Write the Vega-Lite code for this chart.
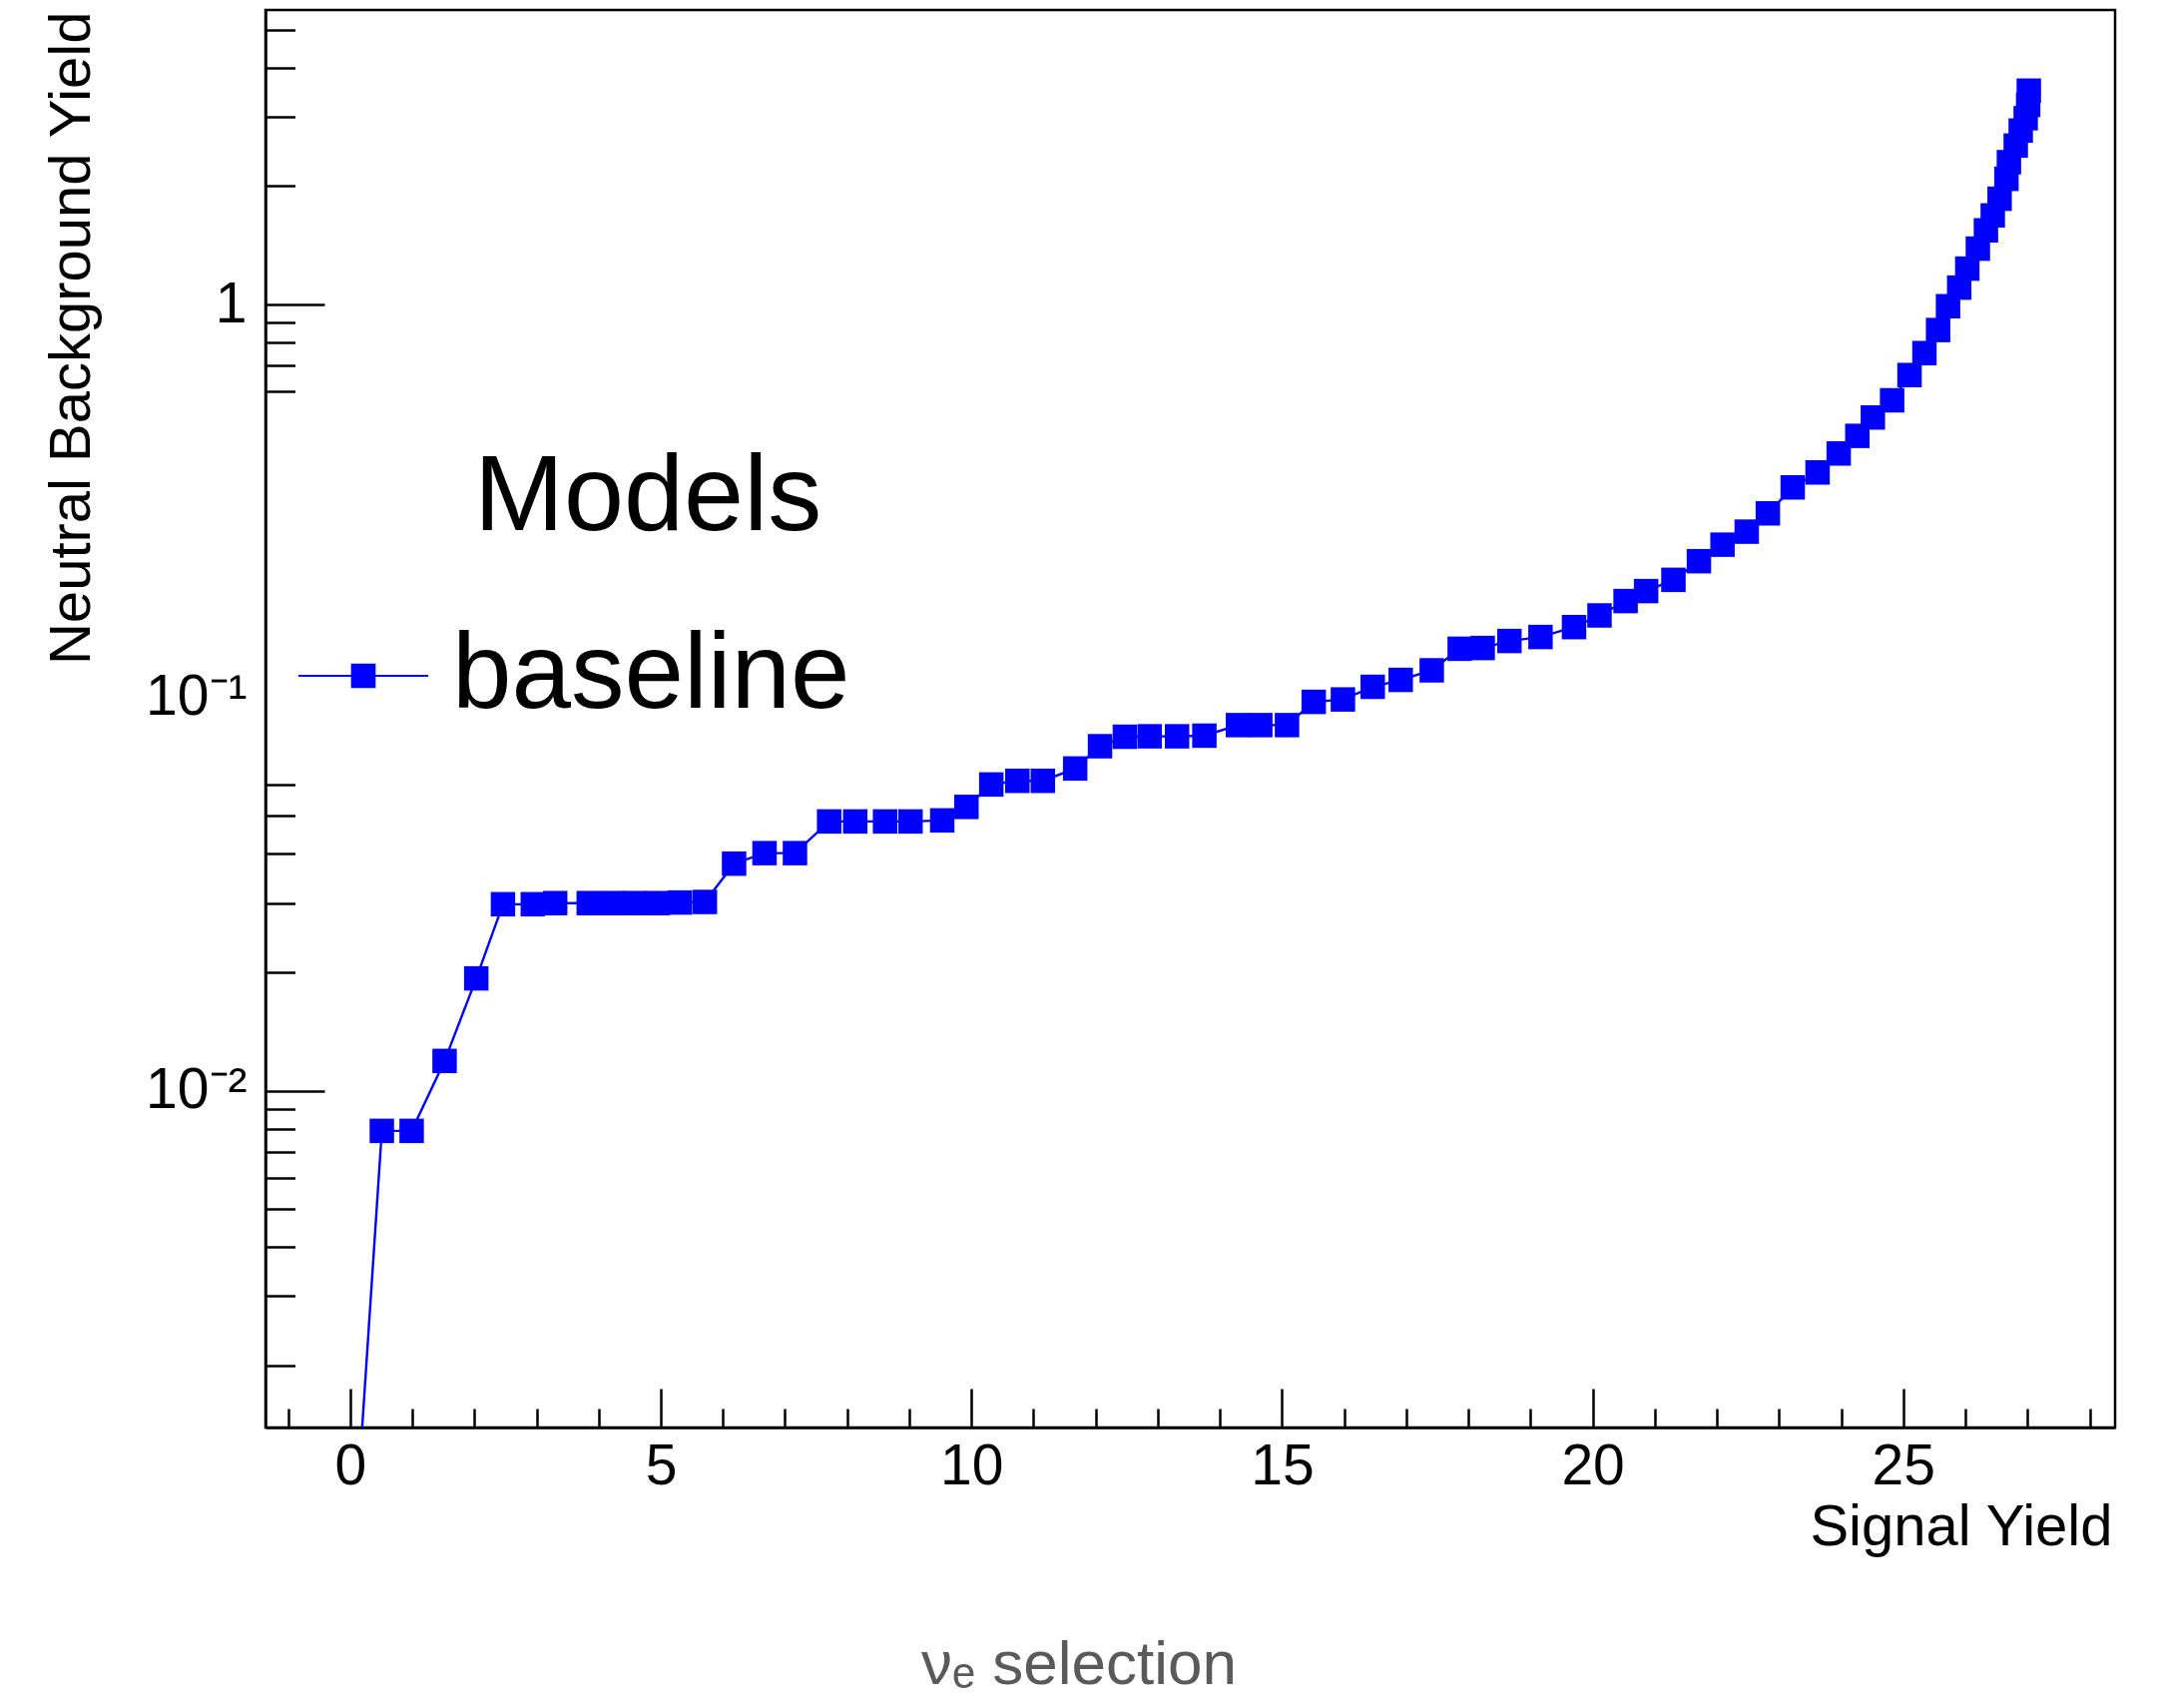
{
  "$schema": "https://vega.github.io/schema/vega-lite/v6.json",
  "width": 1853,
  "height": 1420,
  "autosize": {"type": "none"},
  "padding": {"left": 266, "top": 10, "right": 48, "bottom": 281},
  "background": "white",
  "config": {
    "font": "Liberation Sans",
    "view": {"stroke": "black", "strokeWidth": 2.5},
    "axis": {"grid": false, "tickColor": "black", "domainColor": "black", "labelColor": "black", "titleColor": "black"}
  },
  "title": {
    "text": "νₑ selection",
    "orient": "bottom",
    "anchor": "middle",
    "frame": "bounds",
    "font": "Liberation Sans",
    "fontSize": 62,
    "fontWeight": "normal",
    "color": "#5a5a5a",
    "offset": 79
  },
  "data": {
    "values": [
      {"signal": 0.00, "background": 0.00048, "model": "baseline"},
      {"signal": 0.51, "background": 0.0079, "model": "baseline"},
      {"signal": 0.99, "background": 0.0079, "model": "baseline"},
      {"signal": 1.52, "background": 0.0119, "model": "baseline"},
      {"signal": 2.03, "background": 0.0193, "model": "baseline"},
      {"signal": 2.46, "background": 0.0298, "model": "baseline"},
      {"signal": 2.94, "background": 0.0298, "model": "baseline"},
      {"signal": 3.30, "background": 0.0300, "model": "baseline"},
      {"signal": 3.84, "background": 0.0300, "model": "baseline"},
      {"signal": 4.22, "background": 0.0300, "model": "baseline"},
      {"signal": 4.58, "background": 0.0300, "model": "baseline"},
      {"signal": 4.95, "background": 0.0300, "model": "baseline"},
      {"signal": 5.31, "background": 0.0301, "model": "baseline"},
      {"signal": 5.71, "background": 0.0302, "model": "baseline"},
      {"signal": 6.18, "background": 0.0378, "model": "baseline"},
      {"signal": 6.67, "background": 0.0402, "model": "baseline"},
      {"signal": 7.16, "background": 0.0402, "model": "baseline"},
      {"signal": 7.71, "background": 0.0484, "model": "baseline"},
      {"signal": 8.13, "background": 0.0484, "model": "baseline"},
      {"signal": 8.61, "background": 0.0484, "model": "baseline"},
      {"signal": 9.02, "background": 0.0484, "model": "baseline"},
      {"signal": 9.53, "background": 0.0487, "model": "baseline"},
      {"signal": 9.92, "background": 0.0527, "model": "baseline"},
      {"signal": 10.32, "background": 0.0601, "model": "baseline"},
      {"signal": 10.74, "background": 0.0614, "model": "baseline"},
      {"signal": 11.15, "background": 0.0614, "model": "baseline"},
      {"signal": 11.67, "background": 0.0660, "model": "baseline"},
      {"signal": 12.07, "background": 0.0752, "model": "baseline"},
      {"signal": 12.47, "background": 0.0795, "model": "baseline"},
      {"signal": 12.87, "background": 0.0797, "model": "baseline"},
      {"signal": 13.31, "background": 0.0797, "model": "baseline"},
      {"signal": 13.75, "background": 0.0800, "model": "baseline"},
      {"signal": 14.29, "background": 0.0851, "model": "baseline"},
      {"signal": 14.65, "background": 0.0851, "model": "baseline"},
      {"signal": 15.08, "background": 0.0851, "model": "baseline"},
      {"signal": 15.51, "background": 0.0975, "model": "baseline"},
      {"signal": 15.98, "background": 0.0989, "model": "baseline"},
      {"signal": 16.46, "background": 0.1065, "model": "baseline"},
      {"signal": 16.91, "background": 0.1109, "model": "baseline"},
      {"signal": 17.41, "background": 0.1173, "model": "baseline"},
      {"signal": 17.86, "background": 0.1331, "model": "baseline"},
      {"signal": 18.23, "background": 0.1337, "model": "baseline"},
      {"signal": 18.66, "background": 0.1393, "model": "baseline"},
      {"signal": 19.16, "background": 0.1426, "model": "baseline"},
      {"signal": 19.70, "background": 0.1511, "model": "baseline"},
      {"signal": 20.11, "background": 0.1618, "model": "baseline"},
      {"signal": 20.53, "background": 0.1760, "model": "baseline"},
      {"signal": 20.86, "background": 0.1866, "model": "baseline"},
      {"signal": 21.30, "background": 0.1993, "model": "baseline"},
      {"signal": 21.71, "background": 0.2223, "model": "baseline"},
      {"signal": 22.09, "background": 0.2449, "model": "baseline"},
      {"signal": 22.48, "background": 0.2643, "model": "baseline"},
      {"signal": 22.82, "background": 0.2942, "model": "baseline"},
      {"signal": 23.22, "background": 0.3425, "model": "baseline"},
      {"signal": 23.62, "background": 0.3739, "model": "baseline"},
      {"signal": 23.96, "background": 0.4178, "model": "baseline"},
      {"signal": 24.26, "background": 0.4632, "model": "baseline"},
      {"signal": 24.51, "background": 0.5159, "model": "baseline"},
      {"signal": 24.82, "background": 0.5706, "model": "baseline"},
      {"signal": 25.10, "background": 0.6615, "model": "baseline"},
      {"signal": 25.34, "background": 0.7523, "model": "baseline"},
      {"signal": 25.56, "background": 0.861, "model": "baseline"},
      {"signal": 25.72, "background": 0.990, "model": "baseline"},
      {"signal": 25.90, "background": 1.104, "model": "baseline"},
      {"signal": 26.03, "background": 1.234, "model": "baseline"},
      {"signal": 26.20, "background": 1.387, "model": "baseline"},
      {"signal": 26.33, "background": 1.544, "model": "baseline"},
      {"signal": 26.44, "background": 1.685, "model": "baseline"},
      {"signal": 26.55, "background": 1.858, "model": "baseline"},
      {"signal": 26.66, "background": 2.088, "model": "baseline"},
      {"signal": 26.70, "background": 2.302, "model": "baseline"},
      {"signal": 26.81, "background": 2.537, "model": "baseline"},
      {"signal": 26.89, "background": 2.770, "model": "baseline"},
      {"signal": 26.97, "background": 2.978, "model": "baseline"},
      {"signal": 27.01, "background": 3.22, "model": "baseline"},
      {"signal": 27.02, "background": 3.50, "model": "baseline"}
    ]
  },
  "layer": [
    {
      "mark": {"type": "line", "color": "#0000ff", "strokeWidth": 2.4, "clip": true},
      "encoding": {
        "x": {
          "field": "signal", "type": "quantitative",
          "scale": {"domain": [-1.3625, 28.409], "nice": false, "zero": false},
          "axis": {
            "orient": "bottom",
            "values": [0, 5, 10, 15, 20, 25],
            "tickSize": -39, "tickWidth": 2.5,
            "domain": true, "domainWidth": 2.5,
            "labelFont": "Liberation Sans", "labelFontSize": 57, "labelPadding": 50,
            "labelFlush": false, "labelOverlap": false, "labelBound": false,
            "title": "Signal Yield",
            "titleFont": "Liberation Sans", "titleFontSize": 58, "titleFontWeight": "normal",
            "titleAlign": "right", "titleAnchor": "end", "titleBaseline": "alphabetic",
            "titleX": 1850, "titleY": 117
          }
        },
        "y": {
          "field": "background", "type": "quantitative",
          "scale": {"type": "log", "domain": [0.00139, 5.614], "nice": false},
          "axis": {
            "orient": "left",
            "values": [0.01, 0.1, 1],
            "tickSize": -59, "tickWidth": 2.5,
            "tickOpacity": {"condition": {"test": "datum.value == 0.1", "value": 0}, "value": 1},
            "domain": true, "domainWidth": 2.5,
            "labelExpr": "datum.value == 1 ? '1' : (datum.value == 0.1 ? '10⁻¹' : '10⁻²')",
            "labelFont": "Liberation Sans", "labelFontSize": 57, "labelPadding": 78,
            "labelAlign": "right", "labelBaseline": "middle",
            "labelOverlap": false, "labelBound": false, "labelFlush": false,
            "title": "Neutral Background Yield",
            "titleFont": "Liberation Sans", "titleFontSize": 58, "titleFontWeight": "normal",
            "titleAngle": 270, "titleAlign": "right", "titleBaseline": "alphabetic",
            "titleX": -177, "titleY": 1
          }
        }
      }
    },
    {
      "mark": {"type": "point", "shape": "square", "filled": true, "opacity": 1, "size": 600, "strokeWidth": 0, "clip": true},
      "encoding": {
        "x": {
          "field": "signal", "type": "quantitative",
          "axis": {
            "orient": "bottom",
            "values": [-1, 1, 2, 3, 4, 6, 7, 8, 9, 11, 12, 13, 14, 16, 17, 18, 19, 21, 22, 23, 24, 26, 27, 28],
            "tickSize": -19, "tickWidth": 2.5,
            "domain": false, "labels": false, "title": null
          }
        },
        "y": {
          "field": "background", "type": "quantitative",
          "axis": {
            "orient": "left",
            "values": [0.002, 0.003, 0.004, 0.005, 0.006, 0.007, 0.008, 0.009, 0.02, 0.03, 0.04, 0.05, 0.06, 0.6, 0.7, 0.8, 0.9, 2, 3, 4, 5],
            "tickSize": -29.5, "tickWidth": 2.5,
            "domain": false, "labels": false, "title": null
          }
        },
        "color": {
          "field": "model", "type": "nominal",
          "scale": {"domain": ["baseline"], "range": ["#0000ff"]},
          "legend": {
            "orient": "none",
            "legendX": 209,
            "legendY": 436,
            "padding": 0,
            "title": "Models",
            "titleFont": "Liberation Sans", "titleFontSize": 108, "titleFontWeight": "normal",
            "titleColor": "black", "titlePadding": 58, "titleLimit": 2000,
            "labelFont": "Liberation Sans", "labelFontSize": 107, "labelColor": "black",
            "labelLimit": 2000,
            "symbolType": "M-1,-0.017H1V0.017H-1ZM-0.19,-0.19H0.19V0.19H-0.19Z",
            "symbolSize": 16900,
            "symbolStrokeWidth": 0,
            "symbolOpacity": 1,
            "symbolOffset": -176,
            "labelOffset": 24
          }
        }
      }
    }
  ],
  "resolve": {"axis": {"x": "independent", "y": "independent"}}
}
